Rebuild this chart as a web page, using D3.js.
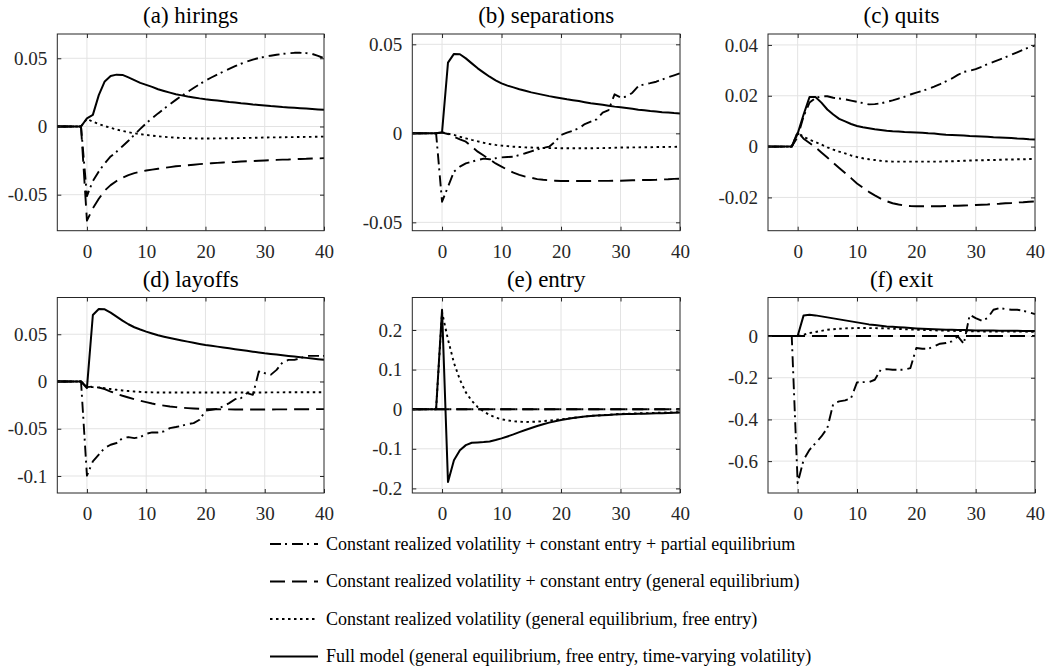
<!DOCTYPE html>
<html>
<head>
<meta charset="utf-8">
<script src="https://cdn.jsdelivr.net/npm/d3@7"></script>
</head>
<body style="margin:0">
<script>
// periods after the shock
const periods = d3.range(-5, 41);

const titles = ["(a) hirings", "(b) separations", "(c) quits", "(d) layoffs", "(e) entry", "(f) exit"];
const yLimits = [[-0.0764, 0.0678], [-0.0547, 0.0558], [-0.0331, 0.0443],
                 [-0.118, 0.0889], [-0.2116, 0.282], [-0.753, 0.185]];
const yTicks = [[-0.05, 0, 0.05], [-0.05, 0, 0.05], [-0.02, 0, 0.02, 0.04],
                [-0.1, -0.05, 0, 0.05], [-0.2, -0.1, 0, 0.1, 0.2], [-0.6, -0.4, -0.2, 0]];
const xTicks = [0, 10, 20, 30, 40];

const legendLabels = [
  "Constant realized volatility + constant entry + partial equilibrium",
  "Constant realized volatility + constant entry (general equilibrium)",
  "Constant realized volatility (general equilibrium, free entry)",
  "Full model (general equilibrium, free entry, time-varying volatility)"
];

// (a) hirings
const hiringsPartial = [0, 0, 0, 0, 0, -0.051, -0.040, -0.033, -0.027, -0.022, -0.0185, -0.0145, -0.0105, -0.0061, -0.0018,
  0.0024, 0.006, 0.0096, 0.013, 0.0163, 0.0195, 0.0225, 0.0254, 0.0282, 0.0309, 0.0337, 0.0359, 0.0381, 0.0402, 0.0422,
  0.0442, 0.046, 0.0476, 0.049, 0.0502, 0.0511, 0.0519, 0.0526, 0.0532, 0.0537, 0.054, 0.054, 0.0538, 0.0532, 0.0518, 0.050];
const hiringsConstEntry = [0, 0, 0, 0, 0, -0.069, -0.060, -0.053, -0.047, -0.043, -0.040, -0.0375, -0.0356, -0.0342, -0.0332,
  -0.0323, -0.0316, -0.031, -0.0304, -0.0298, -0.0292, -0.0288, -0.0284, -0.028, -0.0276, -0.0273, -0.027, -0.0267, -0.0264, -0.0262,
  -0.026, -0.0257, -0.0255, -0.0253, -0.0251, -0.0249, -0.0247, -0.0245, -0.0243, -0.0242, -0.024, -0.0238, -0.0237, -0.0235, -0.0234, -0.0232];
const hiringsConstVol = [0, 0, 0, 0, 0, 0.0056, 0.0035, 0.0018, 0.0003, -0.001, -0.0022, -0.0033, -0.0042, -0.005, -0.0056,
  -0.0062, -0.0067, -0.0072, -0.0076, -0.0079, -0.0082, -0.0084, -0.0086, -0.0087, -0.0088, -0.0088, -0.0088, -0.0087, -0.0087, -0.0086,
  -0.0086, -0.0085, -0.0084, -0.0083, -0.0082, -0.0081, -0.008, -0.008, -0.0079, -0.0078, -0.0078, -0.0077, -0.0076, -0.0076, -0.0075, -0.0074];
const hiringsFull = [0, 0, 0, 0, 0, 0.006, 0.0085, 0.023, 0.033, 0.037, 0.038, 0.0378, 0.036, 0.034, 0.032,
  0.0305, 0.029, 0.0273, 0.026, 0.0248, 0.0237, 0.0228, 0.022, 0.0213, 0.0206, 0.020, 0.0195, 0.019, 0.0185, 0.018,
  0.0176, 0.0171, 0.0167, 0.0162, 0.0158, 0.0154, 0.015, 0.0147, 0.0143, 0.014, 0.0137, 0.0134, 0.0131, 0.0128, 0.0125, 0.0122];

// (b) separations
const separationsPartial = [0, 0, 0, 0, 0, -0.0384, -0.030, -0.0215, -0.0187, -0.0169, -0.0159, -0.015, -0.0142, -0.0146, -0.014,
  -0.0135, -0.0133, -0.0131, -0.0122, -0.0112, -0.0101, -0.009, -0.0082, -0.0075, -0.0047, -0.0009, 0.0004, 0.0015, 0.0028, 0.0052,
  0.0066, 0.0079, 0.0116, 0.0131, 0.0219, 0.0202, 0.0206, 0.0228, 0.0266, 0.0275, 0.0282, 0.029, 0.0302, 0.0315, 0.0326, 0.0337];
const separationsConstEntry = [0, 0, 0, 0, 0, 0.0004, -0.0004, -0.0019, -0.0034, -0.0047, -0.0075, -0.0103, -0.0125, -0.0146, -0.0169,
  -0.0187, -0.0205, -0.0221, -0.0233, -0.0243, -0.025, -0.0257, -0.0261, -0.0264, -0.0266, -0.0268, -0.0268, -0.0268, -0.0268, -0.0268,
  -0.0268, -0.0267, -0.0267, -0.0267, -0.0266, -0.0266, -0.0265, -0.0264, -0.0263, -0.0262, -0.0262, -0.0261, -0.0259, -0.0258, -0.0256, -0.0255];
const separationsConstVol = [0, 0, 0, 0, 0, 0.0006, -0.0002, -0.0009, -0.0019, -0.0028, -0.0037, -0.0045, -0.0053, -0.006, -0.0065,
  -0.0069, -0.0072, -0.0075, -0.0077, -0.0079, -0.008, -0.0081, -0.0082, -0.0083, -0.0083, -0.0084, -0.0084, -0.0084, -0.0084, -0.0084,
  -0.0084, -0.0083, -0.0083, -0.0082, -0.0081, -0.008, -0.008, -0.0079, -0.0079, -0.0078, -0.0078, -0.0077, -0.0077, -0.0076, -0.0076, -0.0075];
const separationsFull = [0, 0, 0, 0, 0, 0.0006, 0.0397, 0.0446, 0.0444, 0.0421, 0.0393, 0.0365, 0.0341, 0.0318, 0.0298,
  0.0281, 0.0268, 0.0258, 0.0248, 0.0239, 0.023, 0.0223, 0.0216, 0.0209, 0.0203, 0.0197, 0.0191, 0.0186, 0.0181, 0.0175,
  0.0169, 0.0165, 0.016, 0.0155, 0.015, 0.0146, 0.0142, 0.0138, 0.0133, 0.0129, 0.0125, 0.0122, 0.0119, 0.0117, 0.0114, 0.0112];

// (c) quits
const quitsPartial = [0, 0, 0, 0, 0, 0.0038, 0.0119, 0.0173, 0.0191, 0.0198, 0.0198, 0.0192, 0.0189, 0.0186, 0.0181,
  0.0176, 0.0171, 0.0166, 0.0167, 0.017, 0.0176, 0.0182, 0.0189, 0.0196, 0.0205, 0.0212, 0.0219, 0.0227, 0.0236, 0.0246,
  0.0257, 0.0268, 0.0282, 0.0294, 0.0298, 0.0305, 0.0314, 0.0324, 0.0333, 0.0342, 0.0351, 0.0361, 0.0371, 0.0381, 0.039, 0.0398];
const quitsConstEntry = [0, 0, 0, 0, 0, 0.0058, 0.0031, 0.0014, -0.0003, -0.0023, -0.0043, -0.0064, -0.0084, -0.0104, -0.0124,
  -0.0145, -0.0162, -0.0178, -0.0192, -0.0205, -0.0215, -0.0223, -0.0228, -0.0232, -0.0234, -0.0235, -0.0235, -0.0235, -0.0235, -0.0235,
  -0.0234, -0.0233, -0.0233, -0.0232, -0.0231, -0.023, -0.0229, -0.0228, -0.0226, -0.0225, -0.0223, -0.0222, -0.022, -0.0219, -0.0217, -0.0216];
const quitsConstVol = [0, 0, 0, 0, 0, 0.0055, 0.0038, 0.0027, 0.0018, 0.0008, -0.0003, -0.0012, -0.002, -0.0027, -0.0035,
  -0.0041, -0.0046, -0.005, -0.0053, -0.0056, -0.0058, -0.0059, -0.0059, -0.0059, -0.0059, -0.0059, -0.0059, -0.0059, -0.0059, -0.0059,
  -0.0058, -0.0058, -0.0057, -0.0056, -0.0055, -0.0054, -0.0054, -0.0053, -0.0053, -0.0052, -0.0051, -0.0051, -0.005, -0.005, -0.0049, -0.0049];
const quitsFull = [0, 0, 0, 0, 0, 0.0051, 0.0126, 0.0195, 0.0195, 0.0173, 0.0146, 0.0126, 0.0109, 0.0099, 0.0089,
  0.0081, 0.0076, 0.0072, 0.0068, 0.0065, 0.0062, 0.006, 0.0059, 0.0057, 0.0056, 0.0055, 0.0054, 0.0052, 0.0051, 0.0049,
  0.0047, 0.0046, 0.0045, 0.0044, 0.0042, 0.0041, 0.004, 0.0039, 0.0037, 0.0036, 0.0035, 0.0034, 0.0032, 0.0031, 0.0029, 0.0028];

// (d) layoffs
const layoffsPartial = [0, 0, 0, 0, 0, -0.0996, -0.0845, -0.0775, -0.0704, -0.0669, -0.0651, -0.0599, -0.0588, -0.0599, -0.0588,
  -0.0553, -0.0539, -0.0539, -0.0528, -0.0493, -0.0482, -0.0468, -0.0451, -0.044, -0.0405, -0.031, -0.0299, -0.0289, -0.0264, -0.0229,
  -0.0187, -0.0176, -0.0123, -0.0141, 0.0106, 0.0088, 0.007, 0.0123, 0.0201, 0.0229, 0.0229, 0.0246, 0.0271, 0.0271, 0.0271, 0.0271];
const layoffsConstEntry = [0, 0, 0, 0, 0, -0.006, -0.0053, -0.0063, -0.0081, -0.0106, -0.013, -0.0151, -0.0169, -0.0187, -0.0203,
  -0.0218, -0.0233, -0.0246, -0.0255, -0.0264, -0.0271, -0.0278, -0.0282, -0.0285, -0.0289, -0.0292, -0.0293, -0.0294, -0.0295, -0.0295,
  -0.0296, -0.0296, -0.0296, -0.0296, -0.0296, -0.0296, -0.0296, -0.0295, -0.0295, -0.0295, -0.0294, -0.0294, -0.0293, -0.0293, -0.0292, -0.0292];
const layoffsConstVol = [0, 0, 0, 0, 0, -0.006, -0.006, -0.0063, -0.0072, -0.008, -0.0088, -0.0095, -0.0101, -0.0106, -0.011,
  -0.0113, -0.0115, -0.0116, -0.0116, -0.0116, -0.0116, -0.0116, -0.0116, -0.0116, -0.0116, -0.0116, -0.0116, -0.0116, -0.0116, -0.0116,
  -0.0116, -0.0116, -0.0116, -0.0116, -0.0116, -0.0116, -0.0115, -0.0115, -0.0115, -0.0114, -0.0114, -0.0114, -0.0113, -0.0113, -0.0113, -0.0113];
const layoffsFull = [0, 0, 0, 0, 0, -0.007, 0.0704, 0.0768, 0.0764, 0.0729, 0.0687, 0.0644, 0.0606, 0.0574, 0.055,
  0.0528, 0.0508, 0.0489, 0.0474, 0.046, 0.0447, 0.0435, 0.0422, 0.041, 0.0398, 0.0387, 0.0378, 0.0369, 0.036, 0.0351,
  0.0342, 0.0333, 0.0325, 0.0316, 0.0308, 0.0299, 0.0292, 0.0285, 0.0278, 0.0271, 0.0264, 0.0257, 0.025, 0.0243, 0.0236, 0.0229];

// (e) entry
const entryPartial = [0, 0, 0, 0, 0, 0, 0, 0, 0, 0, 0, 0, 0, 0, 0, 0, 0, 0, 0, 0, 0, 0, 0,
  0, 0, 0, 0, 0, 0, 0, 0, 0, 0, 0, 0, 0, 0, 0, 0, 0, 0, 0, 0, 0, 0, 0];
const entryConstEntry = [0, 0, 0, 0, 0, 0, 0, 0, 0, 0, 0, 0, 0, 0, 0, 0, 0, 0, 0, 0, 0, 0, 0,
  0, 0, 0, 0, 0, 0, 0, 0, 0, 0, 0, 0, 0, 0, 0, 0, 0, 0, 0, 0, 0, 0, 0];
const entryConstVol = [0, 0, 0, 0, 0, 0.245, 0.176, 0.117, 0.0746, 0.0424, 0.0212, 0.0051, -0.0059, -0.0144, -0.0212,
  -0.0254, -0.0282, -0.0305, -0.0316, -0.0322, -0.032, -0.0314, -0.0302, -0.0288, -0.0271, -0.0254, -0.0237, -0.022, -0.0203, -0.0186,
  -0.0169, -0.016, -0.015, -0.0139, -0.0129, -0.0119, -0.0114, -0.011, -0.0105, -0.0101, -0.0097, -0.0093, -0.0088, -0.0084, -0.008, -0.0076];
const entryFull = [0, 0, 0, 0, 0, 0.2508, -0.1839, -0.1288, -0.1034, -0.0907, -0.0847, -0.0839, -0.083, -0.0814, -0.078,
  -0.0737, -0.0688, -0.0636, -0.058, -0.0525, -0.0474, -0.0424, -0.038, -0.0339, -0.0303, -0.0271, -0.0245, -0.022, -0.0202, -0.0185,
  -0.0169, -0.016, -0.0152, -0.0144, -0.0135, -0.0127, -0.0124, -0.012, -0.0117, -0.0113, -0.011, -0.0105, -0.01, -0.0095, -0.009, -0.0085];

// (f) exit
const exitPartial = [0, 0, 0, 0, 0, -0.7056, -0.5936, -0.5456, -0.5136, -0.4816, -0.4416, -0.3248, -0.3136, -0.3088, -0.2976,
  -0.2224, -0.2208, -0.2208, -0.2096, -0.1616, -0.1584, -0.1616, -0.1616, -0.1616, -0.1536, -0.0576, -0.0608, -0.0608, -0.0496, -0.0368,
  -0.0336, -0.0256, -0.0016, -0.0368, 0.1024, 0.0864, 0.0736, 0.0864, 0.1264, 0.1344, 0.1296, 0.1264, 0.1264, 0.1216, 0.1136, 0.1056];
const exitConstEntry = [0, 0, 0, 0, 0, 0, 0, 0, 0, 0, 0, 0, 0, 0, 0, 0, 0, 0, 0, 0, 0, 0, 0,
  0, 0, 0, 0, 0, 0, 0, 0, 0, 0, 0, 0, 0, 0, 0, 0, 0, 0, 0, 0, 0, 0, 0];
const exitConstVol = [0, 0, 0, 0, 0, 0, 0.0064, 0.0144, 0.0192, 0.025, 0.0304, 0.033, 0.035, 0.0368, 0.0378,
  0.0384, 0.0384, 0.0382, 0.038, 0.0375, 0.0368, 0.0355, 0.0342, 0.033, 0.0317, 0.0304, 0.0294, 0.0285, 0.0275, 0.0266,
  0.0256, 0.025, 0.0243, 0.0237, 0.023, 0.0224, 0.0222, 0.022, 0.0219, 0.0217, 0.0216, 0.0214, 0.0213, 0.0211, 0.0209, 0.0208];
const exitFull = [0, 0, 0, 0, 0, 0, 0.0992, 0.1024, 0.0992, 0.0944, 0.0896, 0.0848, 0.08, 0.0752, 0.0704,
  0.0656, 0.0608, 0.056, 0.0528, 0.0496, 0.0464, 0.0445, 0.0426, 0.0406, 0.0387, 0.0368, 0.0355, 0.0342, 0.033, 0.0317,
  0.0304, 0.0298, 0.0291, 0.0285, 0.0278, 0.0272, 0.0269, 0.0266, 0.0262, 0.0259, 0.0256, 0.0253, 0.025, 0.0246, 0.0243, 0.024];

// panel -> [partial eq, const entry GE, const vol, full] in plotting order
const panelSeries = [
  [hiringsPartial, hiringsConstEntry, hiringsConstVol, hiringsFull],
  [separationsPartial, separationsConstEntry, separationsConstVol, separationsFull],
  [quitsPartial, quitsConstEntry, quitsConstVol, quitsFull],
  [layoffsPartial, layoffsConstEntry, layoffsConstVol, layoffsFull],
  [entryPartial, entryConstEntry, entryConstVol, entryFull],
  [exitPartial, exitConstEntry, exitConstVol, exitFull]
];

// line styles, same order as legend
const dashes = ["11,4,2,5", "15,7", "2.5,3.5", null];
const widths = [1.9, 1.9, 1.9, 2];

const W = 1057, H = 671;
const lefts = [57.3, 412.3, 768], rights = [324, 680, 1035];
const tops = [34, 297.5], bottoms = [230.7, 493];
const axisColor = "#262626";
const serif = '"Liberation Serif"';

const svg = d3.select("body").append("svg")
    .attr("width", W)
    .attr("height", H);

// texts first, then the plot layers
const textLayer = svg.append("g");
const gridLayer = svg.append("g");
const lineLayer = svg.append("g");
const frameLayer = svg.append("g");

const fmt = v => (v === 0 ? "0" : String(v));

titles.forEach((title, i) => {
    const col = i % 3, row = Math.floor(i / 3);
    const x = d3.scaleLinear().domain([-5, 40]).range([lefts[col], rights[col]]);
    const y = d3.scaleLinear().domain(yLimits[i]).range([bottoms[row], tops[row]]);

    textLayer.append("text")
        .style("font-family", serif)
        .attr("font-size", 23)
        .attr("x", (x.range()[0] + x.range()[1]) / 2)
        .attr("y", y.range()[1] - 11)
        .attr("text-anchor", "middle")
        .text(title);

    // tick labels
    const labels = a => a
        .attr("font-family", null)
        .attr("font-size", null)
        .call(a => a.select(".domain").remove())
        .call(a => a.selectAll("line").remove())
        .call(a => a.selectAll("text")
            .style("font-family", serif)
            .attr("font-size", 19)
            .attr("fill", axisColor));
    textLayer.append("g")
        .attr("transform", `translate(${x.range()[0]},0)`)
        .call(d3.axisLeft(y).tickValues(yTicks[i]).tickSize(0).tickPadding(10).tickFormat(fmt))
        .call(labels);
    textLayer.append("g")
        .attr("transform", `translate(0,${y.range()[0]})`)
        .call(d3.axisBottom(x).tickValues(xTicks).tickSize(0).tickPadding(14))
        .call(labels);

    // grid
    gridLayer.append("g").selectAll("line").data(xTicks.slice(0, -1)).join("line")
        .attr("x1", d => x(d)).attr("x2", d => x(d))
        .attr("y1", y.range()[0]).attr("y2", y.range()[1])
        .attr("stroke", "#e3e3e3").attr("stroke-width", 1);
    gridLayer.append("g").selectAll("line").data(yTicks[i]).join("line")
        .attr("x1", x.range()[0]).attr("x2", x.range()[1])
        .attr("y1", d => y(d)).attr("y2", d => y(d))
        .attr("stroke", "#e3e3e3").attr("stroke-width", 1);

    const line = d3.line()
        .x((d, k) => x(periods[k]))
        .y(d => y(d));

    panelSeries[i].forEach((vals, s) => {
        lineLayer.append("path")
            .datum(vals)
            .attr("fill", "none")
            .attr("stroke", "#000")
            .attr("stroke-width", widths[s])
            .attr("stroke-dasharray", dashes[s])
            .attr("stroke-linejoin", "round")
            .attr("d", line);
    });

    // inward tick marks on all four sides
    const marks = a => a
        .call(a => a.select(".domain").remove())
        .call(a => a.selectAll("text").remove())
        .call(a => a.selectAll("line").attr("stroke", axisColor));
    frameLayer.append("g").attr("transform", `translate(${x.range()[0]},0)`)
        .call(d3.axisLeft(y).tickValues(yTicks[i]).tickSize(-4)).call(marks);
    frameLayer.append("g").attr("transform", `translate(${x.range()[1]},0)`)
        .call(d3.axisRight(y).tickValues(yTicks[i]).tickSize(-4)).call(marks);
    frameLayer.append("g").attr("transform", `translate(0,${y.range()[0]})`)
        .call(d3.axisBottom(x).tickValues(xTicks).tickSize(-4)).call(marks);
    frameLayer.append("g").attr("transform", `translate(0,${y.range()[1]})`)
        .call(d3.axisTop(x).tickValues(xTicks).tickSize(-4)).call(marks);

    frameLayer.append("rect")
        .attr("x", x.range()[0]).attr("y", y.range()[1])
        .attr("width", x.range()[1] - x.range()[0])
        .attr("height", y.range()[0] - y.range()[1])
        .attr("fill", "none")
        .attr("stroke", axisColor)
        .attr("stroke-width", 1);
});

// legend
const legendY = [544, 581.5, 619, 656.5];
legendLabels.forEach((label, s) => {
    textLayer.append("text")
        .style("font-family", serif)
        .attr("font-size", 18)
        .attr("x", 326)
        .attr("y", legendY[s] + 5.5)
        .text(label);
    lineLayer.append("line")
        .attr("x1", 270).attr("x2", 318)
        .attr("y1", legendY[s]).attr("y2", legendY[s])
        .attr("stroke", "#000")
        .attr("stroke-width", widths[s])
        .attr("stroke-dasharray", dashes[s]);
});
</script>
</body>
</html>
